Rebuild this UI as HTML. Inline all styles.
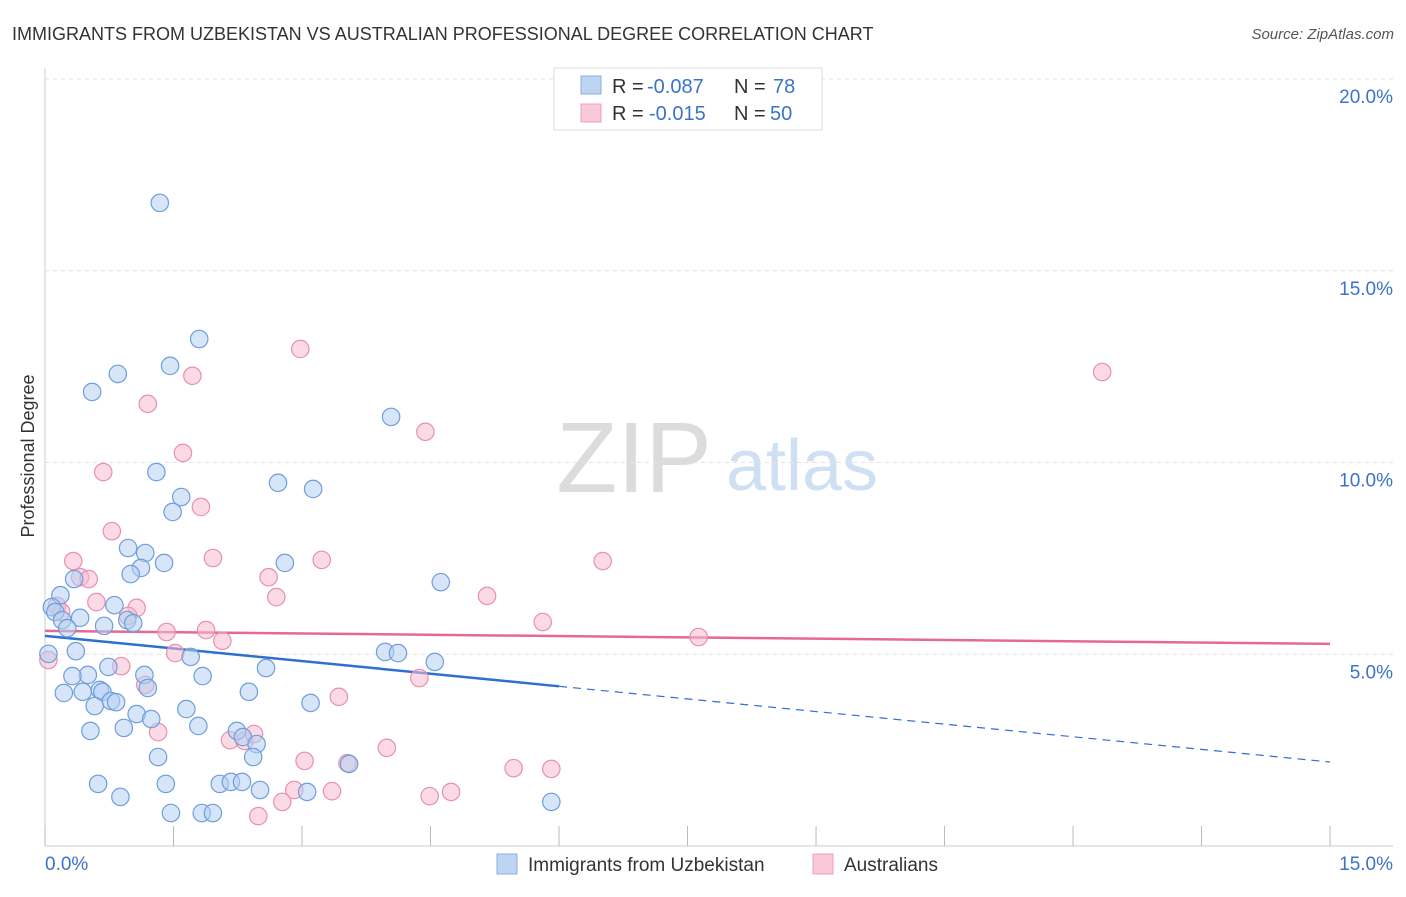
<!DOCTYPE html>
<html><head><meta charset="utf-8"><style>
body{margin:0;background:#fff;font-family:"Liberation Sans",sans-serif}
svg text{font-family:"Liberation Sans",sans-serif}
</style></head><body>
<svg width="1406" height="892" viewBox="0 0 1406 892">
<text x="12" y="40" font-size="18" fill="#333">IMMIGRANTS FROM UZBEKISTAN VS AUSTRALIAN PROFESSIONAL DEGREE CORRELATION CHART</text>
<text x="1394" y="39" font-size="15" fill="#555" text-anchor="end" font-style="italic">Source: ZipAtlas.com</text>
<g>
<text x="634" y="492" font-size="100" fill="#dcdcdc" font-family="Liberation Serif" text-anchor="middle">ZIP</text>
<text x="802" y="490" font-size="72" fill="#cfe0f3" text-anchor="middle">atlas</text>
</g>
<g id="grid"></g>
<g id="axes"></g>
<g id="trends"></g>
<g id="pts"></g>
<text transform="translate(34,456) rotate(-90)" font-size="18" fill="#333" text-anchor="middle">Professional Degree</text>
<g>
<rect x="554" y="68" width="268" height="62" fill="#fff" stroke="#ddd"/>
<rect x="581" y="76" width="20" height="18" fill="#bcd5f3" stroke="#88aee0"/>
<rect x="581" y="104" width="20" height="18" fill="#f9c9d7" stroke="#eea0b7"/>
<text x="612" y="93" font-size="20" fill="#333">R =</text>
<text x="647" y="93" font-size="20" fill="#3a73c9">-0.087</text>
<text x="734" y="93" font-size="20" fill="#333">N =</text>
<text x="773" y="93" font-size="20" fill="#3a73c9">78</text>
<text x="612" y="120" font-size="20" fill="#333">R =</text>
<text x="649" y="120" font-size="20" fill="#3a73c9">-0.015</text>
<text x="734" y="120" font-size="20" fill="#333">N =</text>
<text x="770" y="120" font-size="20" fill="#3a73c9">50</text>
</g>
<g>
<rect x="497" y="854" width="20" height="20" fill="#bcd5f3" stroke="#88aee0"/>
<text x="528" y="871" font-size="19" fill="#333">Immigrants from Uzbekistan</text>
<rect x="813" y="854" width="20" height="20" fill="#f9c9d7" stroke="#eea0b7"/>
<text x="844" y="871" font-size="19" fill="#333">Australians</text>
</g>
</svg>
<script>
const yTicks=[5,10,15,20];
const yTickLabels=["5.0%","10.0%","15.0%","20.0%"];
const xTickLabels=["0.0%","15.0%"];
const blueX=[1.34,1.80,1.46,0.85,0.55,4.04,1.30,2.72,3.13,1.59,1.49,0.97,1.17,2.80,1.39,1.12,1.00,0.34,4.62,0.18,0.08,0.12,0.81,0.41,0.20,0.96,0.69,1.03,0.26,0.04,0.36,1.70,3.97,4.12,4.55,0.74,2.58,0.50,0.32,1.16,1.84,0.64,0.22,0.44,0.67,1.20,2.38,0.77,0.83,0.58,1.65,3.10,1.07,1.24,1.79,0.53,0.92,2.24,2.31,2.47,1.32,2.43,3.55,0.62,1.41,2.04,2.17,2.30,2.51,3.06,0.88,5.91,1.47,1.83,1.96];
const blueY=[16.77,13.22,12.52,12.31,11.84,11.19,9.75,9.47,9.31,9.10,8.71,7.77,7.64,7.38,7.38,7.25,7.09,6.96,6.88,6.54,6.23,6.10,6.28,5.95,5.89,5.89,5.74,5.81,5.68,5.01,5.08,4.93,5.06,5.03,4.80,4.67,4.64,4.46,4.43,4.46,4.43,4.07,3.99,4.02,4.02,4.12,4.02,3.78,3.75,3.65,3.57,3.73,3.44,3.31,3.13,3.00,3.08,3.00,2.84,2.66,2.32,2.32,2.14,1.62,1.62,1.62,1.67,1.67,1.46,1.41,1.28,1.15,0.86,0.86,0.86];
const pinkX=[2.98,12.34,1.72,1.20,4.44,1.61,0.68,1.82,0.78,0.33,1.96,3.23,6.51,0.41,0.51,2.61,0.60,2.70,5.16,1.07,0.14,0.19,0.97,5.81,1.42,1.88,2.07,7.63,0.04,0.89,1.52,4.37,1.17,3.43,1.32,2.16,2.33,2.44,3.99,3.03,3.53,5.47,5.91,2.91,3.35,2.77,4.49,4.74,2.49];
const pinkY=[12.96,12.36,12.26,11.53,10.80,10.25,9.75,8.84,8.21,7.43,7.51,7.46,7.43,7.01,6.96,7.01,6.36,6.49,6.52,6.21,6.26,6.10,6.00,5.84,5.58,5.63,5.35,5.45,4.85,4.69,5.03,4.38,4.20,3.89,2.97,2.76,2.74,2.92,2.56,2.22,2.16,2.03,2.01,1.46,1.43,1.15,1.30,1.41,0.78];
const blueTrend=[5.48,2.19]; const blueSolidEnd=6;
const pinkTrend=[5.61,5.27];
const NS="http://www.w3.org/2000/svg";
const sx=v=>45+v*85.67, sy=v=>846-v*38.35;
function mk(p,t,a){const e=document.createElementNS(NS,t);for(const k in a)e.setAttribute(k,a[k]);document.getElementById(p).appendChild(e);return e;}
yTicks.forEach((t,i)=>{
 const g=mk('grid','line',{x1:45,x2:1393,y1:sy(t),y2:sy(t),stroke:'#e3e3e3','stroke-dasharray':'4,4'});
 
 
 const l=mk('axes','text',{x:1393,y:sy(t)+24,'font-size':19,fill:'#3a73c9','text-anchor':'end'});l.textContent=yTickLabels[i];
 
 
});
mk('axes','line',{x1:45,x2:45,y1:68,y2:846,stroke:'#ccc'});
mk('axes','line',{x1:45,x2:1393,y1:846,y2:846,stroke:'#ccc'});
for(let i=0;i<=10;i++){const t=mk('axes','line',{x1:sx(i*1.5),x2:sx(i*1.5),y1:826,y2:846,stroke:'#bbb'});
 
 }
let a=mk('axes','text',{x:45,y:870,'font-size':19,fill:'#3a73c9'});a.textContent=xTickLabels[0];
let b=mk('axes','text',{x:1393,y:870,'font-size':19,fill:'#3a73c9','text-anchor':'end'});b.textContent=xTickLabels[1];
function draw(xs,ys,fill,stroke,name){xs.forEach((x,i)=>{const c=mk('pts','circle',{cx:sx(x),cy:sy(ys[i]),r:8.7,fill:fill,'fill-opacity':0.55,stroke:stroke,'stroke-width':1.2});
 
 });}
draw(pinkX,pinkY,'#f7bcd0','#e691ad','australians-point');
draw(blueX,blueY,'#b5d0f2','#6f9edc','uzbekistan-point');
const by=x=>blueTrend[0]+(blueTrend[1]-blueTrend[0])*x/15;
let t1=mk('trends','line',{x1:sx(0),y1:sy(by(0)),x2:sx(blueSolidEnd),y2:sy(by(blueSolidEnd)),stroke:'#2f6fd1','stroke-width':2.5});


let t2=mk('trends','line',{x1:sx(blueSolidEnd),y1:sy(by(blueSolidEnd)),x2:sx(15),y2:sy(by(15)),stroke:'#2f6fd1','stroke-width':1.2,'stroke-dasharray':'8,6'});


let t3=mk('trends','line',{x1:sx(0),y1:sy(pinkTrend[0]),x2:sx(15),y2:sy(pinkTrend[1]),stroke:'#e46a95','stroke-width':2.5});


</script>
</body></html>
